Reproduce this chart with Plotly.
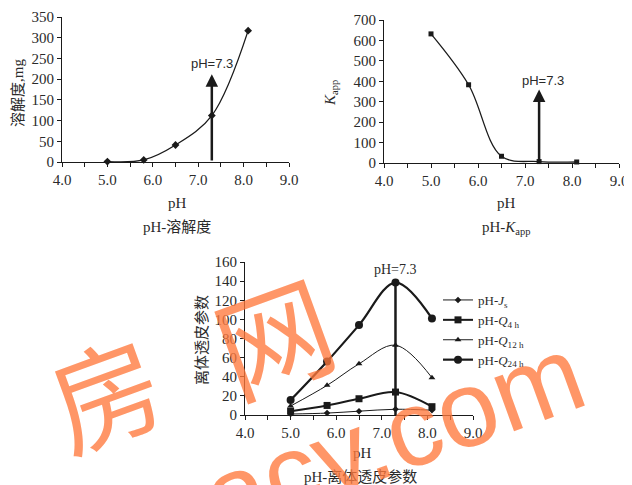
import plotly.graph_objects as go

# ---- data ----
ph = [5.0, 5.8, 6.5, 7.3, 8.1]
solubility = [1, 5, 41, 112, 317]
kapp = [632, 383, 33, 7, 5]
js = [1, 2, 4, 6, 5]
q4h = [4, 10, 17, 24, 8.7]
q12h = [9.4, 31, 53.5, 73, 39]
q24h = [15.6, 56, 94, 138.5, 101]
marker_ph = 7.3
arrow_top_sol = 212
arrow_top_kapp = 360
x_ticks = [4.0, 5.0, 6.0, 7.0, 8.0, 9.0]

W, H = 632, 485
OFF = 8  # page body margin
SERIF = "Liberation Serif, Noto Sans CJK SC"
SANS = "Liberation Sans, Arial"
INK = "#1a1a1a"
TXT = "#2a2a2a"
ORANGE = "rgba(255,120,60,0.78)"


def fx(p):
    return (p - OFF) / W


def fy(p):
    return 1 - (p - OFF) / H


def px_x(a, b):
    return [fx(a), fx(b)]


def px_y(top, bottom):
    return [fy(bottom), fy(top)]


fig = go.Figure()

fig.add_trace(go.Scatter(x=ph, y=solubility, mode="lines+markers", line=dict(color=INK, width=1.3, shape="spline"),
                         marker=dict(symbol="diamond", size=6, color=INK), xaxis="x", yaxis="y",
                         showlegend=False, cliponaxis=False))
fig.add_trace(go.Scatter(x=ph, y=kapp, mode="lines+markers", line=dict(color=INK, width=1.3, shape="spline"),
                         marker=dict(symbol="square", size=5, color=INK), xaxis="x2", yaxis="y2",
                         showlegend=False, cliponaxis=False))

series = [
    ("pH-<i>J</i><sub>s</sub>", js, "diamond", 5, 1.0),
    ("pH-<i>Q</i><sub>4 h</sub>", q4h, "square", 7, 2.0),
    ("pH-<i>Q</i><sub>12 h</sub>", q12h, "triangle-up", 6, 1.0),
    ("pH-<i>Q</i><sub>24 h</sub>", q24h, "circle", 8, 2.2),
]
for name, vals, sym, size, lw in series:
    fig.add_trace(go.Scatter(x=ph, y=vals, name=name, mode="lines+markers",
                             line=dict(color=INK, width=lw, shape="spline"),
                             marker=dict(symbol=sym, size=size, color=INK),
                             xaxis="x3", yaxis="y3", cliponaxis=False))
fig.add_trace(go.Scatter(x=[marker_ph, marker_ph], y=[0, max(q24h)], mode="lines",
                         line=dict(color=INK, width=2.5), xaxis="x3", yaxis="y3",
                         showlegend=False, hoverinfo="skip"))

axis_common = dict(showline=True, linecolor=INK, linewidth=1.2, showgrid=False, zeroline=False, automargin=False,
                   ticks="outside", ticklen=4, tickcolor=INK, tickfont=dict(family=SERIF, size=15, color=TXT))
xcommon = dict(axis_common, range=[4, 9], tickvals=x_ticks, ticktext=[f"{v:.1f}" for v in x_ticks],
               minor=dict(dtick=0.5, tick0=4, ticks="outside", ticklen=4, tickcolor=INK))

fig.update_layout(
    template="none",
    width=W, height=H, margin=dict(l=0, r=0, t=0, b=0, autoexpand=False),
    paper_bgcolor="white", plot_bgcolor="white",
    xaxis=dict(xcommon, domain=px_x(62, 289), anchor="y"),
    yaxis=dict(axis_common, domain=px_y(17, 162), anchor="x", range=[0, 350], dtick=50),
    xaxis2=dict(xcommon, domain=px_x(384, 619), anchor="y2"),
    yaxis2=dict(axis_common, domain=px_y(20, 163), anchor="x2", range=[0, 700], dtick=100),
    xaxis3=dict(xcommon, domain=px_x(245, 473), anchor="y3"),
    yaxis3=dict(axis_common, domain=px_y(262, 415), anchor="x3", range=[0, 160], dtick=20),
    legend=dict(x=fx(438), y=fy(285), xanchor="left", yanchor="top", bgcolor="rgba(0,0,0,0)",
                font=dict(family=SERIF, size=13, color=TXT), itemwidth=30, tracegroupgap=0),
    showlegend=True,
)

ann = []
ann.append(dict(x=marker_ph, y=arrow_top_sol, ax=marker_ph, ay=0, xref="x", yref="y", axref="x", ayref="y",
                showarrow=True, arrowhead=2, arrowsize=1, arrowwidth=2.5, arrowcolor=INK, text=""))
ann.append(dict(x=marker_ph, y=arrow_top_kapp, ax=marker_ph, ay=0, xref="x2", yref="y2", axref="x2", ayref="y2",
                showarrow=True, arrowhead=2, arrowsize=1, arrowwidth=2.5, arrowcolor=INK, text=""))
ann.append(dict(x=marker_ph, y=arrow_top_sol, xref="x", yref="y", yshift=11, showarrow=False, text="pH=7.3",
                font=dict(family=SANS, size=13, color=TXT), yanchor="middle"))
ann.append(dict(x=marker_ph, y=arrow_top_kapp, xref="x2", yref="y2", yshift=9, xshift=4, showarrow=False,
                text="pH=7.3", font=dict(family=SANS, size=13, color=TXT), yanchor="middle"))
ann.append(dict(x=marker_ph, y=max(q24h), xref="x3", yref="y3", yshift=13, showarrow=False, text="pH=7.3",
                font=dict(family=SERIF, size=14, color=TXT), yanchor="middle"))


def label(text, x, y, size=15, angle=0, family=SERIF):
    return dict(text=text, x=fx(x), y=fy(y), xref="paper", yref="paper", showarrow=False,
                textangle=angle, font=dict(family=family, size=size, color=TXT),
                xanchor="center", yanchor="middle")


ann += [
    label("pH", 177, 203), label("pH-溶解度", 177, 227),
    label("pH", 506, 203), label("pH-<i>K</i><sub>app</sub>", 506, 228),
    label("pH", 362, 453), label("pH-离体透皮参数", 360, 477),
    label("溶解度,mg", 18, 93, angle=-90),
    label("<i>K</i><sub>app</sub>", 331, 93, angle=-90),
    label("离体透皮参数", 202, 340, angle=-90),
]


def wm(text, x, y, size, angle, family="Noto Sans CJK SC"):
    return dict(text=text, x=fx(x), y=fy(y), xref="paper", yref="paper", showarrow=False,
                textangle=angle, font=dict(family=family, size=size, color=ORANGE),
                xanchor="center", yanchor="middle")


ann += [
    wm("房", 104, 389, 110, -20),
    wm("网", 272, 333, 115, -20),
    wm("eacy.com", 365, 445, 108, -20, family="Liberation Sans"),
]

fig.update_layout(annotations=ann)
fig.write_html("out.html")
